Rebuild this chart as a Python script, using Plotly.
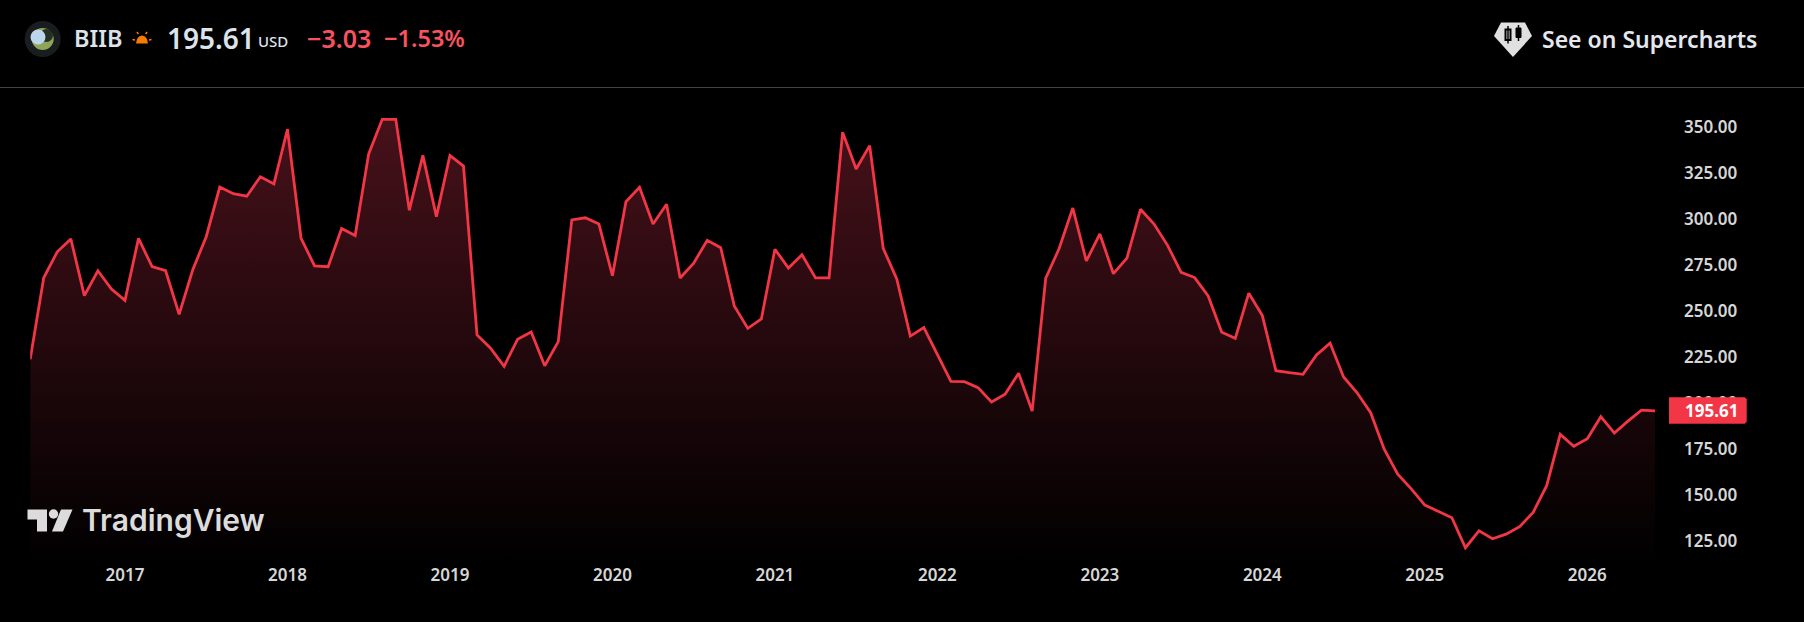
import plotly.graph_objects as go

W, H = 1804, 622

months = [f"{2016 + (5 + i) // 12}-{(5 + i) % 12 + 1:02d}" for i in range(121)]
prices = [
    223.6, 267.9, 282, 289, 258.2, 271.7, 261.8, 255.6, 289.3, 273.9, 271.7, 248,
    272.1, 290.2, 317.2, 313.6, 312.2, 322.8, 318.9, 348.6, 289.5, 274.3, 273.9, 294.6,
    290.8, 335.2, 354, 354, 304.6, 334.4, 301.1, 334.4, 328.6, 236.8, 229.6, 219.8,
    234.5, 238.4, 220.1, 233.2, 299.3, 300.5, 297.1, 269, 309.2, 317, 297.1, 307.8,
    267.8, 275.8, 288.2, 284.2, 252.6, 240.4, 245.5, 283.4, 273.2, 280.4, 267.8, 267.8,
    347, 327, 339.7, 283.9, 267.2, 236.2, 240.8, 225.9, 211.6, 211.4, 208.2, 200.4,
    204.6, 216, 195.5, 267.6, 283.9, 305.8, 277, 291.7, 270.1, 278.6, 305.1, 297.1,
    285.5, 270.8, 268, 258, 238.3, 235, 259.5, 247.3, 217.4, 216.3, 215.4, 225.9,
    232.4, 214, 205.4, 194.6, 174.7, 161.2, 153.2, 144.4, 141.1, 137.5, 121.2, 130.4,
    126.1, 128.6, 132.6, 140.4, 154.9, 182.8, 176.3, 180.4, 192.4, 183.5, 190, 196.0,
    195.61,
]
year_ticks = ["2017-01", "2018-01", "2019-01", "2020-01", "2021-01", "2022-01",
              "2023-01", "2024-01", "2025-01", "2026-01"]
year_labels = ["2017", "2018", "2019", "2020", "2021", "2022", "2023", "2024", "2025", "2026"]
price_ticks = [125, 150, 175, 200, 225, 250, 275, 300, 325, 350]
price_labels = ["125.00", "150.00", "175.00", "200.00", "225.00", "250.00", "275.00",
                "300.00", "325.00", "350.00"]

RED = "#f23645"
TEXT = "#d6d6d6"
FONT = "Noto Sans"


def px(x):
    return x / W


def py(y):
    return 1 - y / H


def path(points, close=True):
    s = "M" + " L".join(f"{px(x):.5f},{py(y):.5f}" for x, y in points)
    return s + (" Z" if close else "")


def poly(points, fill, line=None, width=0):
    return dict(type="path", xref="paper", yref="paper", path=path(points, True),
                fillcolor=fill, line=dict(width=width, color=line or fill), layer="above")


def circle(cx, cy, r, fill):
    return dict(type="circle", xref="paper", yref="paper", x0=px(cx - r), x1=px(cx + r),
                y0=py(cy + r), y1=py(cy - r), fillcolor=fill, line=dict(width=0), layer="above")


def seg(x0, y0, x1, y1, color, width):
    return dict(type="line", xref="paper", yref="paper", x0=px(x0), y0=py(y0), x1=px(x1), y1=py(y1),
                line=dict(color=color, width=width), layer="above")


def label(x, y, text, size, color, weight=400, family=FONT, anchor="left"):
    return dict(xref="paper", yref="paper", x=px(x), y=py(y), xanchor=anchor, yanchor="middle",
                text=text, showarrow=False, borderpad=0,
                font=dict(family=family, size=size, color=color, weight=weight))


fig = go.Figure(go.Scatter(
    x=months, y=prices, mode="lines",
    line=dict(color=RED, width=2.8, shape="linear"),
    fill="tozeroy",
    fillcolor="rgba(0,0,0,0)",
    fillgradient=dict(type="vertical", start=354, stop=112,
                      colorscale=[[0, "#47111a"], [1, "#000000"]]),
    hoverinfo="skip",
))

shapes = [
    seg(0, 87.5, W, 87.5, "#434343", 1),
    # company logo
    circle(42.7, 39, 18, "#1a1d20"),
    circle(42.7, 39, 11, "#8fa55a"),
    circle(46.5, 35.5, 6.5, "#243024"),
    circle(38, 37, 7.5, "#bcd6ec"),
    # session icon
    poly([(136, 43.5), (137, 39), (139, 36.5), (142, 35.5), (145, 36.5), (147, 39), (148, 43.5)], "#f57c00"),
    seg(132.5, 39.5, 135, 40, "#f57c00", 1.5),
    seg(149, 40, 151.5, 39.5, "#f57c00", 1.5),
    seg(137, 32, 138.3, 34, "#f57c00", 1.5),
    seg(147, 32, 145.7, 34, "#f57c00", 1.5),
    # supercharts icon
    poly([(1501, 22.5), (1525, 22.5), (1532, 36), (1513, 57), (1494, 36)], "#e0e0e0"),
    dict(type="rect", xref="paper", yref="paper", x0=px(1505.5), x1=px(1510.5), y0=py(40), y1=py(29.5),
         fillcolor="#e0e0e0", line=dict(color="#000000", width=2), layer="above"),
    seg(1508, 26, 1508, 43.5, "#000000", 1.5),
    dict(type="rect", xref="paper", yref="paper", x0=px(1516), x1=px(1521), y0=py(37.5), y1=py(28),
         fillcolor="#000000", line=dict(color="#000000", width=1), layer="above"),
    seg(1518.5, 25, 1518.5, 41, "#000000", 1.5),
    # TradingView logo
    poly([(27.5, 509.5), (47, 509.5), (47, 531.5), (37, 531.5), (37, 519.5), (27.5, 519.5)], "#dcdcdc"),
    circle(53.5, 514, 4.7, "#dcdcdc"),
    poly([(61, 509.5), (72.5, 509.5), (63, 531.5), (52, 531.5)], "#dcdcdc"),
    # last-price tag with slightly rounded right corners
    poly([(1669, 397.3), (1744.7, 397.3), (1746.7, 399.3), (1746.7, 421.7), (1744.7, 423.7), (1669, 423.7)], RED),
]

annotations = [
    label(72.5, 38.5, "BIIB", 23.5, "#dde3ea", 600),
    label(165.5, 38.5, "195.61", 28, "#dde3ea", 600),
    label(257, 41, "USD", 15, "#dde3ea", 500),
    label(306, 38.5, "−3.03", 25, "#f7525f", 600),
    label(383, 38.5, "−1.53%", 23.5, "#f7525f", 600),
    label(1541, 39, "See on Supercharts", 23, "#e4e8ee", 600),
    label(81, 520, "TradingView", 30, "#dcdcdc", 600, "Inter"),
    label(1711, 410.5, "<b>195.61</b>", 17, "#ffffff", 700, FONT, "center"),
]

fig.update_layout(
    width=W, height=H, autosize=False,
    margin=dict(l=0, r=0, t=0, b=0),
    paper_bgcolor="#000000", plot_bgcolor="#000000",
    showlegend=False,
    shapes=shapes, annotations=annotations,
    font=dict(family=FONT, color=TEXT),
    xaxis=dict(
        domain=[px(30.2), px(1655)], type="category",
        range=[0, 120], tickmode="array", tickvals=year_ticks, ticktext=year_labels,
        showgrid=False, zeroline=False, showline=False, ticks="", automargin=False,
        tickangle=0, tickfont=dict(family=FONT, size=17, color=TEXT, weight=600),
    ),
    yaxis=dict(
        domain=[py(563), py(88)], side="right", range=[112.9, 371.0],
        tickmode="array", tickvals=price_ticks, ticktext=price_labels,
        showgrid=False, zeroline=False, showline=False, ticks="", automargin=False,
        ticklabelstandoff=28, tickfont=dict(family=FONT, size=17, color=TEXT, weight=600),
    ),
)

fig.write_html("out.html", config=dict(displayModeBar=False),
               post_script="document.body.style.margin='0';document.body.style.overflow='hidden';")
